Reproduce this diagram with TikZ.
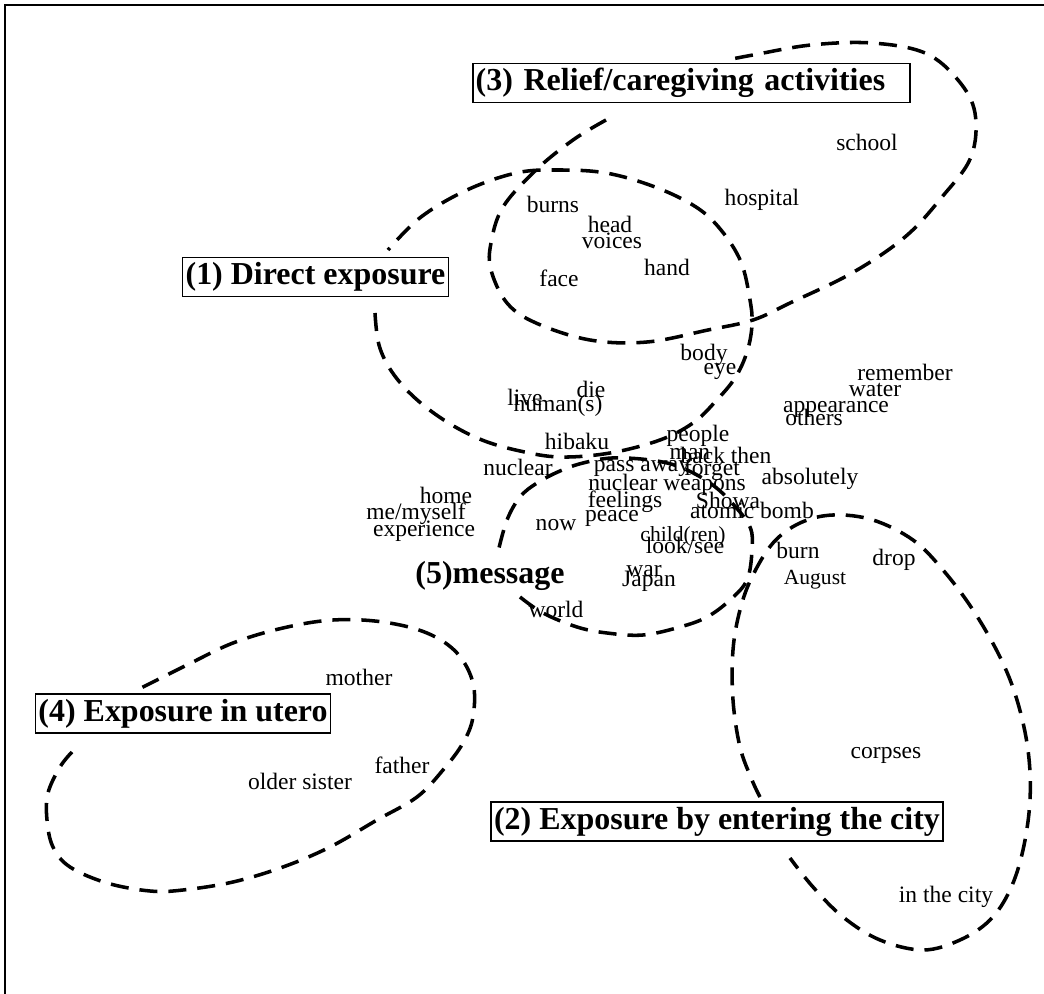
\documentclass[tikz,border=0pt]{standalone}
\usepackage{fontspec}
\setmainfont{Liberation Serif}
\begin{document}
\begin{tikzpicture}[x=0.51pt,y=-0.51pt,
  zone/.style={line width=1.8pt, dash pattern=on 9.2pt off 5.6pt},
  word/.style={inner sep=0pt, font=\fontsize{12}{14}\selectfont},
  smallword/.style={inner sep=0pt, font=\fontsize{11}{13}\selectfont},
  catbox/.style={draw, line width=0.8pt, fill=white, inner xsep=1.5pt, inner ysep=0pt,
    minimum height=20pt, font=\bfseries\fontsize{16.3}{18}\selectfont},
  cattext/.style={inner sep=0pt, font=\bfseries\fontsize{16.3}{18}\selectfont}]
\useasboundingbox (0,0) rectangle (1044,994);

% frame (top and left edges)
\draw[line width=1.1pt] (5,994) -- (5,5) -- (1044,5);

% (1) direct exposure
\draw[zone] plot[smooth, tension=0.6] coordinates {
  (375,313) (379,345) (392,372) (415,398) (447,422) (482,440) (520,451)
  (560,457) (610,453) (660,440) (693,423) (715,402) (735,378) (747,352)
  (752,325) (750,300) (741,262) (721,230) (696,207) (655,187) (606,173)
  (557,170) (516,173) (467,190) (421,217) (388,250)};

% (3) relief / caregiving
\draw[zone] plot[smooth, tension=0.6] coordinates {
  (606,120) (573,140) (536,170) (503,207) (491,243) (491,270) (507,303)
  (536,323) (590,340) (647,342) (708,330) (753,320) (790,303) (852,273)
  (905,237) (942,197) (971,157) (975,113) (958,80) (925,53) (872,43)
  (811,45) (753,55) (727,60)};

% (2) entering the city
\draw[zone] plot[smooth, tension=0.6] coordinates {
  (760,797) (752,780) (740,747) (733,700) (733,650) (740,610) (752,577)
  (773,543) (800,523) (833,515) (873,520) (913,540) (943,570) (973,610)
  (1000,657) (1017,700) (1028,750) (1030,800) (1023,850) (1010,890)
  (990,920) (960,940) (923,950) (880,940) (843,917) (813,887) (790,858)};

% (4) in utero
\draw[zone] plot[smooth, tension=0.6] coordinates {
  (72,752) (60,767) (48,793) (47,820) (53,847) (70,867) (107,883) (150,891)
  (183,890) (233,882) (283,867) (330,847) (377,820) (417,797) (443,770)
  (463,743) (473,717) (473,683) (457,653) (427,633) (383,622) (333,620)
  (283,628) (233,643) (187,665) (157,680) (133,692)};

% (5) message
\draw[zone] plot[smooth, tension=0.6] coordinates {
  (520,597) (543,613) (577,627) (607,633) (643,635) (680,627) (707,617)
  (730,600) (747,580) (752,550) (750,527) (732,503) (710,483) (680,467)
  (650,460) (612,458) (583,463) (560,471) (537,483) (520,497) (507,520)
  (498,552)};

% category labels
\node[catbox, anchor=west, text width=220pt, align=left] (c3) at (472,83) {(3) Relief/caregiving activities};
\node[catbox] (c1) at (315.5,277) {(1) Direct exposure};
\node[catbox] (c4) at (183,713.5) {(4) Exposure in utero};
\node[catbox] (c2) at (717,821.5) {(2) Exposure by entering the city};
\node[cattext] (c5) at (490,576) {(5)message};

% words
\node[word] (w1) at (867,142) {school};
\node[word] (w2) at (762,200) {hospital};
\node[word] (w3) at (553,204) {burns};
\node[word] (w4) at (610,224) {head};
\node[word] (w5) at (612,241) {voices};
\node[word] (w6) at (667,267) {hand};
\node[word] (w7) at (559,278) {face};
\node[word] (w8) at (704,355) {body};
\node[word] (w9) at (720,371) {eye};
\node[word] (w10) at (905,372) {remember};
\node[word] (w11) at (875,390) {water};
\node[word] (w12) at (836,409) {appearance};
\node[word] (w13) at (814,417) {others};
\node[word] (w14) at (525,397) {live};
\node[word] (w15) at (591,389) {die};
\node[word] (w16) at (558,406) {human(s)};
\node[word] (w17) at (577,441) {hibaku};
\node[word] (w18) at (698,436) {people};
\node[word] (w19) at (690,454) {man};
\node[word] (w20) at (726,455) {back then};
\node[word] (w21) at (518,467) {nuclear};
\node[word] (w22) at (642,468) {pass away};
\node[word] (w23) at (712,470) {forget};
\node[word] (w24) at (810,479) {absolutely};
\node[word] (w25) at (667,485) {nuclear weapons};
\node[word] (w26) at (446,495) {home};
\node[word] (w27) at (625,502) {feelings};
\node[word] (w28) at (728,500) {Showa};
\node[word] (w29) at (752,510) {atomic bomb};
\node[word] (w30) at (416,514) {me/myself};
\node[word] (w31) at (612,518) {peace};
\node[word] (w32) at (556,525) {now};
\node[word] (w33) at (424,531) {experience};
\node[smallword] (w34) at (683,536) {child(ren)};
\node[word] (w35) at (685,545) {look/see};
\node[word] (w36) at (644,571) {war};
\node[word] (w37) at (649,581) {Japan};
\node[word] (w38) at (556,609) {world};
\node[word] (w39) at (798,550) {burn};
\node[word] (w40) at (894,560) {drop};
\node[smallword] (w41) at (815,580) {August};
\node[word] (w42) at (886,755) {corpses};
\node[word] (w43) at (946,897) {in the city};
\node[word] (w44) at (359,677) {mother};
\node[word] (w45) at (402,765) {father};
\node[word] (w46) at (300,781) {older sister};
\end{tikzpicture}
\end{document}
